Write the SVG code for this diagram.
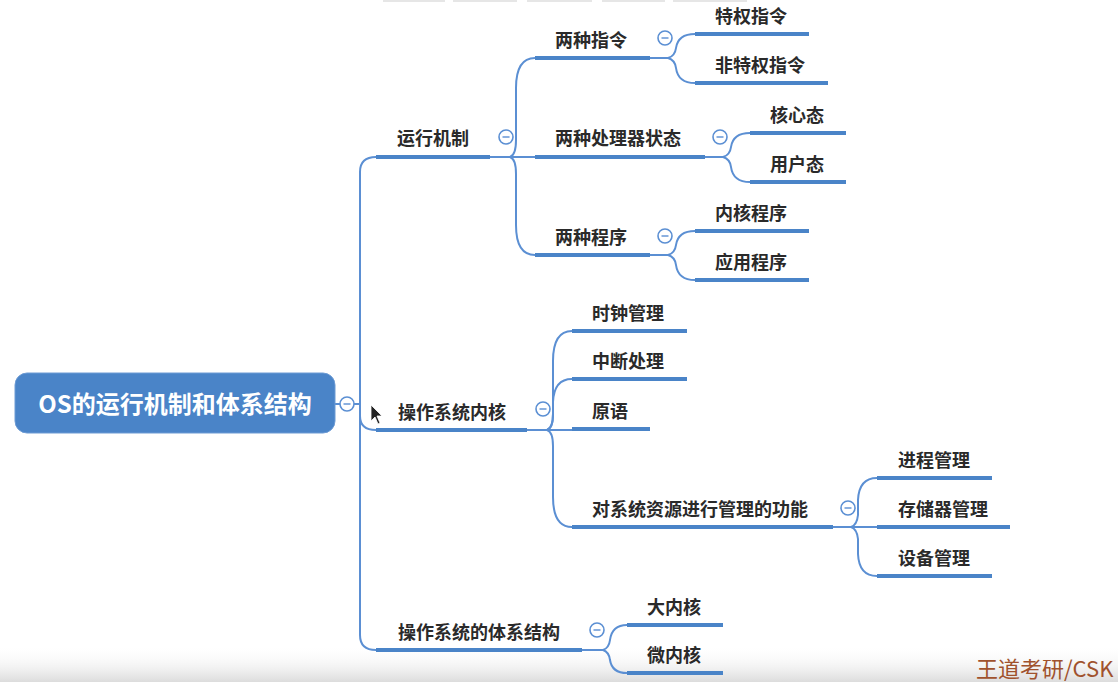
<svg xmlns="http://www.w3.org/2000/svg" width="1118" height="682" viewBox="0 0 1118 682">
<defs>
<linearGradient id="bot" x1="0" y1="0" x2="0" y2="1">
<stop offset="0" stop-color="#ffffff" stop-opacity="0"/>
<stop offset="1" stop-color="#dcdcdc" stop-opacity="1"/>
</linearGradient>
<g id="tog"><circle r="7" fill="#fff" stroke="#5b8fd3" stroke-width="1.6"/><line x1="-3.5" y1="0" x2="3.5" y2="0" stroke="#5b8fd3" stroke-width="1.4"/></g>
</defs>
<style>
.t{font-family:"Noto Sans CJK SC","Noto Sans",sans-serif;font-size:18px;fill:#2a2a2a;font-weight:bold}
.u{stroke:#4a84c8;stroke-width:4;fill:none}
.c{stroke:#5b8fd3;stroke-width:2;fill:none}
</style>
<rect width="1118" height="682" fill="#fff"/>
<g fill="#e6e6e6">
<rect x="383" y="0" width="62" height="2"/><rect x="453" y="0" width="64" height="2"/><rect x="527" y="0" width="65" height="2"/><rect x="602" y="0" width="63" height="2"/><rect x="673" y="0" width="74" height="2"/>
</g>
<rect x="0" y="645" width="1118" height="37" fill="url(#bot)"/>

<g id="connectors">
<path class="c" d="M335 404 H340 M354 404 H360"/>
<path class="c" d="M360 404 V172 Q360 157 376 157"/>
<path class="c" d="M360 404 V416 Q360 430 376 430"/>
<path class="c" d="M360 404 V635 Q360 650 376 650"/>
<path class="c" d="M490 157 H535"/>
<path class="c" d="M510 157 Q516 155 516 140 V88 Q516 58 535 58"/>
<path class="c" d="M510 157 Q516 159 516 174 V225 Q516 255 535 255"/>
<path class="c" d="M650 58 H668 Q675 56 676 48 Q678 34 695 34"/>
<path class="c" d="M668 58 Q675 60 676 68 Q678 83 695 83"/>
<path class="c" d="M705 157 H723 Q730 155 731 147 Q733 133 750 133"/>
<path class="c" d="M723 157 Q730 159 731 167 Q733 182 750 182"/>
<path class="c" d="M650 255 H668 Q675 253 676 245 Q678 231 695 231"/>
<path class="c" d="M668 255 Q675 257 676 265 Q678 280 695 280"/>
<path class="c" d="M527 430 H572"/>
<path class="c" d="M547 430 Q553 428 553 414 V361 Q553 331 572 331"/>
<path class="c" d="M547 430 Q553 428 553 414 V402 Q554 379 572 379"/>
<path class="c" d="M547 430 Q553 432 553 446 V497 Q553 527 572 527"/>
<path class="c" d="M833 527 H851 Q857 525 858 515 V500 Q859 478 877 478"/>
<path class="c" d="M851 527 H877"/>
<path class="c" d="M851 527 Q857 529 858 539 V554 Q859 576 877 576"/>
<path class="c" d="M582 650 H603 Q609 648 610 640 Q612 625 627 625"/>
<path class="c" d="M603 650 Q609 652 610 660 Q612 673 627 673"/>
</g>

<g id="root">
<rect x="15" y="373" width="320" height="60" rx="12" fill="#4a84c8" stroke="#6d9bd4" stroke-width="1"/>
<text x="175" y="413" text-anchor="middle" font-family="'Noto Sans CJK SC','Noto Sans',sans-serif" font-size="24" font-weight="bold" fill="#fff">OS的运行机制和体系结构</text>
<use href="#tog" x="347" y="404"/>
</g>

<g id="n-yxjz"><text class="t" x="397" y="145">运行机制</text><line class="u" x1="376" y1="157" x2="490" y2="157"/><use href="#tog" x="506" y="137"/></g>
<g id="n-lzzl"><text class="t" x="555" y="47">两种指令</text><line class="u" x1="535" y1="58" x2="650" y2="58"/><use href="#tog" x="665" y="38"/></g>
<g id="n-tqzl"><text class="t" x="715" y="23">特权指令</text><line class="u" x1="695" y1="34" x2="809" y2="34"/></g>
<g id="n-ftqzl"><text class="t" x="715" y="72">非特权指令</text><line class="u" x1="695" y1="83" x2="828" y2="83"/></g>
<g id="n-clqzt"><text class="t" x="555" y="145">两种处理器状态</text><line class="u" x1="535" y1="157" x2="705" y2="157"/><use href="#tog" x="720" y="137"/></g>
<g id="n-hxt"><text class="t" x="770" y="122">核心态</text><line class="u" x1="750" y1="133" x2="846" y2="133"/></g>
<g id="n-yht"><text class="t" x="770" y="171">用户态</text><line class="u" x1="750" y1="182" x2="846" y2="182"/></g>
<g id="n-lzcx"><text class="t" x="555" y="244">两种程序</text><line class="u" x1="535" y1="255" x2="650" y2="255"/><use href="#tog" x="665" y="236"/></g>
<g id="n-nhcx"><text class="t" x="715" y="220">内核程序</text><line class="u" x1="695" y1="231" x2="809" y2="231"/></g>
<g id="n-yycx"><text class="t" x="715" y="269">应用程序</text><line class="u" x1="695" y1="280" x2="809" y2="280"/></g>

<g id="n-nh"><text class="t" x="398" y="419">操作系统内核</text><line class="u" x1="376" y1="430" x2="527" y2="430"/><use href="#tog" x="543" y="409"/></g>
<g id="n-szgl"><text class="t" x="592" y="320">时钟管理</text><line class="u" x1="572" y1="331" x2="687" y2="331"/></g>
<g id="n-zdcl"><text class="t" x="592" y="368">中断处理</text><line class="u" x1="572" y1="379" x2="687" y2="379"/></g>
<g id="n-yy"><text class="t" x="592" y="418">原语</text><line class="u" x1="572" y1="429" x2="650" y2="429"/></g>
<g id="n-zygl"><text class="t" x="592" y="516">对系统资源进行管理的功能</text><line class="u" x1="572" y1="527" x2="833" y2="527"/><use href="#tog" x="848" y="508"/></g>
<g id="n-jcgl"><text class="t" x="898" y="467">进程管理</text><line class="u" x1="877" y1="478" x2="992" y2="478"/></g>
<g id="n-ccgl"><text class="t" x="898" y="516">存储器管理</text><line class="u" x1="877" y1="527" x2="1010" y2="527"/></g>
<g id="n-sbgl"><text class="t" x="898" y="565">设备管理</text><line class="u" x1="877" y1="576" x2="992" y2="576"/></g>

<g id="n-txjg"><text class="t" x="398" y="639">操作系统的体系结构</text><line class="u" x1="376" y1="650" x2="582" y2="650"/><use href="#tog" x="597" y="630"/></g>
<g id="n-dnh"><text class="t" x="647" y="614">大内核</text><line class="u" x1="627" y1="625" x2="723" y2="625"/></g>
<g id="n-wnh"><text class="t" x="647" y="662">微内核</text><line class="u" x1="627" y1="673" x2="723" y2="673"/></g>

<path d="M371 405 L371 421 L375 417 L378 424 L380 423 L377 416 L382 416 Z" fill="#222" stroke="#fff" stroke-width="0.8"/>
<text x="976" y="677" font-family="'Noto Sans CJK SC','Liberation Sans',sans-serif" font-size="22" fill="#a0522d">王道考研/CSK</text>
</svg>
